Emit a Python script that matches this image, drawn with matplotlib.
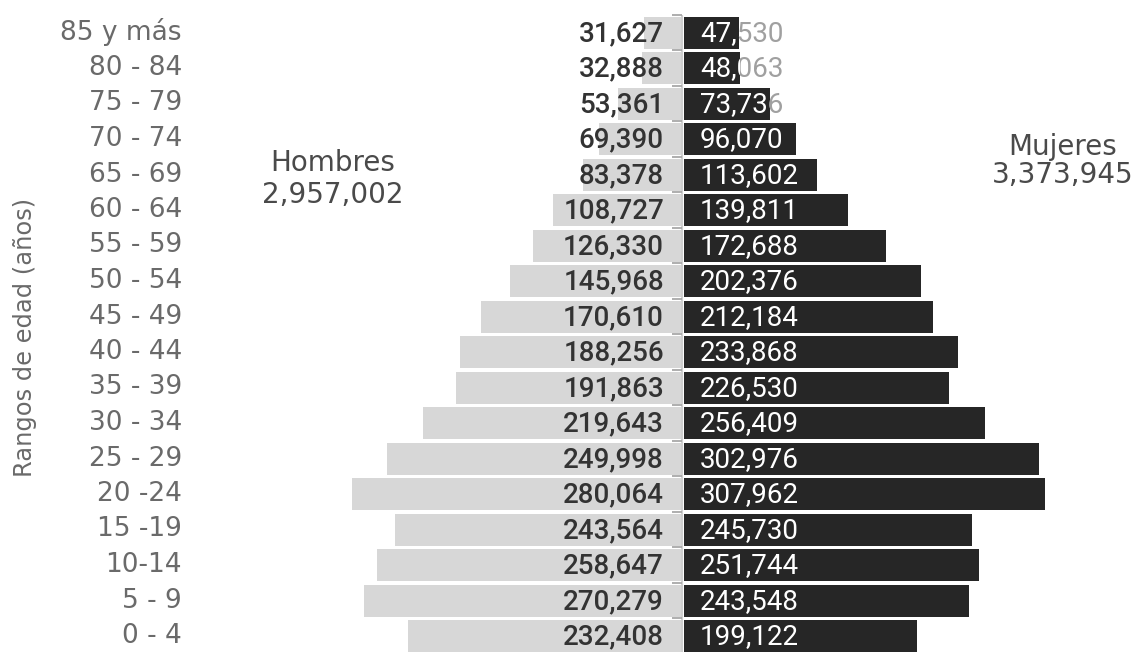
import numpy as np
import matplotlib
matplotlib.use("Agg")
import matplotlib.pyplot as plt
from matplotlib.transforms import Bbox, TransformedBbox

# data, top row first
ages = ["85 y más", "80 - 84", "75 - 79", "70 - 74", "65 - 69", "60 - 64",
        "55 - 59", "50 - 54", "45 - 49", "40 - 44", "35 - 39", "30 - 34",
        "25 - 29", "20 -24", "15 -19", "10-14", "5 - 9", "0 - 4"]
hombres = [31627, 32888, 53361, 69390, 83378, 108727, 126330, 145968, 170610,
           188256, 191863, 219643, 249998, 280064, 243564, 258647, 270279, 232408]
mujeres = [47530, 48063, 73736, 96070, 113602, 139811, 172688, 202376, 212184,
           233868, 226530, 256409, 302976, 307962, 245730, 251744, 243548, 199122]
total_h = "2,957,002"
total_m = "3,373,945"

# layout (pixels)
W, H = 1138, 652
CX = 682.2          # centre line
SCALE = 0.001174    # px per person
GAP = 1.3 / SCALE
ROW_TOP, ROW_STEP, BAR_H = 32.5, 35.5, 32

LIGHT = "#d7d7d7"
DARK = "#262626"
GREY_TXT = "#6a6a6a"


def xd(px):
    return (px - CX) / SCALE


fig = plt.figure(figsize=(W / 100, H / 100), dpi=100)
ax = fig.add_axes([0, 0, 1, 1])
ax.set_xlim(xd(0), xd(W))
ax.set_ylim(H, 0)
ax.axis("off")

yc = ROW_TOP + ROW_STEP * np.arange(len(ages))
men = np.array(hombres)
women = np.array(mujeres)

ax.barh(yc, -men, left=-GAP, height=BAR_H, color=LIGHT, zorder=2)
ax.barh(yc, women, left=GAP, height=BAR_H, color=DARK, zorder=2)

# small ticks on the centre axis
bounds = ROW_TOP + ROW_STEP * (np.arange(len(ages) + 1) - 0.5)
ax.vlines(0, bounds[0], H, color="#cfcfcf", lw=1.5, zorder=1)
ax.hlines(bounds[:-1], xd(CX - 10), 0, color="#a8a8a8", lw=1.3, zorder=3)

for y, lab, vm, vw in zip(yc, ages, men, women):
    ax.text(xd(182), y, lab, ha="right", va="center", family="DejaVu Sans",
            size=19, color=GREY_TXT)
    ax.text(xd(664), y + 1, f"{vm:,}", ha="right", va="center", family="Roboto",
            weight="medium", size=20, color="#333333", zorder=4)

    end = GAP + vw
    # grey part outside the bar, white part inside it
    for col, x0, x1 in (("#a0a0a0", end, xd(W)), ("white", GAP, end)):
        t = ax.text(xd(700), y + 1, f"{vw:,}", ha="left", va="center",
                    family="Roboto", size=20, color=col, zorder=4)
        box = Bbox([[x0, y - BAR_H / 2], [x1, y + BAR_H / 2]])
        t.set_clip_box(TransformedBbox(box, ax.transData))
        t.set_clip_on(True)

ax.text(xd(333), 163, "Hombres", ha="center", va="center", size=20, color="#4a4a4a")
ax.text(xd(333), 195, total_h, ha="center", va="center", size=20, color="#4a4a4a")
ax.text(xd(1063), 147, "Mujeres", ha="center", va="center", size=20, color="#4a4a4a")
ax.text(xd(1063), 175, total_m, ha="center", va="center", size=20, color="#4a4a4a")

ax.text(xd(25), 337, "Rangos de edad (años)", rotation=90, ha="center", va="center",
        size=17.4, color=GREY_TXT)

fig.savefig("out.png", dpi=100)
